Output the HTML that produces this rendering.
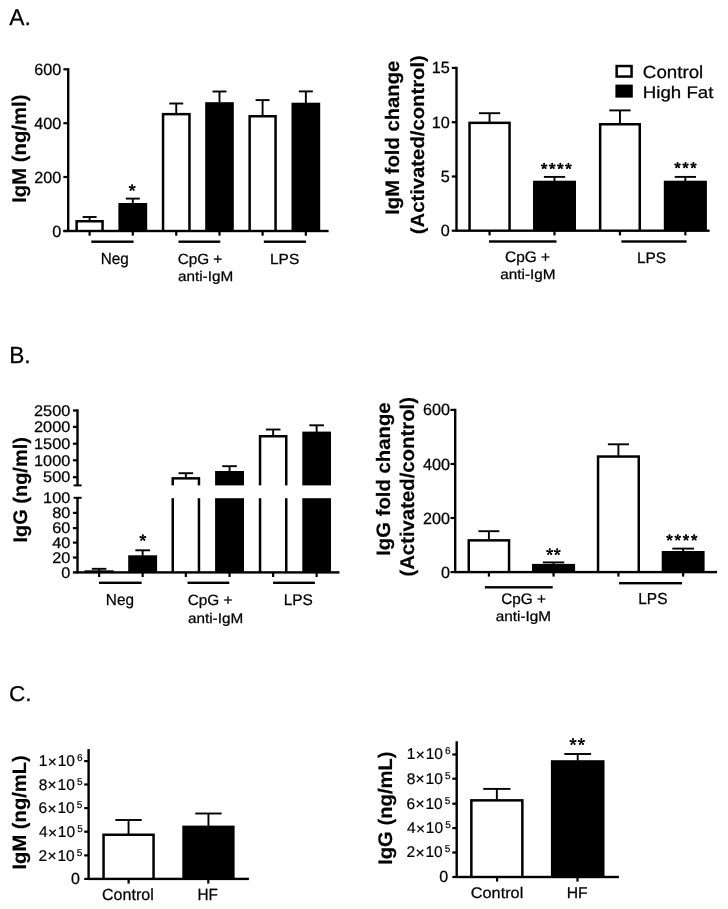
<!DOCTYPE html>
<html><head><meta charset="utf-8"><style>
html,body{margin:0;padding:0;background:#fff;}
svg{display:block;}
text{font-family:"Liberation Sans", sans-serif;fill:#000;text-rendering:geometricPrecision;stroke:#000;stroke-width:0.25px;}
text[font-weight=bold]{stroke-width:0.15px;}
svg{filter:grayscale(1);}
</style></head><body>
<svg width="728" height="909" viewBox="0 0 728 909">
<rect width="728" height="909" fill="#fff"/>
<text transform="translate(9.34,24.85) scale(0.9997,1)" font-size="22.76" font-weight="normal">A.</text>
<text transform="translate(9.23,362.85) scale(0.9704,1)" font-size="23.35" font-weight="normal">B.</text>
<text transform="translate(9.07,700.55) scale(1.0525,1)" font-size="21.43" font-weight="normal">C.</text>
<rect x="67.00" y="68.20" width="2.40" height="163.80" fill="#000"/>
<rect x="63.40" y="229.90" width="4.80" height="2.20" fill="#000"/>
<rect x="63.40" y="175.90" width="4.80" height="2.20" fill="#000"/>
<rect x="63.40" y="122.10" width="4.80" height="2.20" fill="#000"/>
<rect x="63.40" y="68.20" width="4.80" height="2.20" fill="#000"/>
<text transform="translate(52.32,236.57) scale(1.0000,1)" font-size="16.20">0</text>
<text transform="translate(34.29,182.57) scale(1.0000,1)" font-size="16.20">200</text>
<text transform="translate(34.29,128.77) scale(1.0000,1)" font-size="16.20">400</text>
<text transform="translate(34.29,74.87) scale(1.0000,1)" font-size="16.20">600</text>
<rect x="63.40" y="229.80" width="265.20" height="2.40" fill="#000"/>
<rect x="75.40" y="220.00" width="28.40" height="11.00" fill="#000"/>
<rect x="77.90" y="222.50" width="23.40" height="7.30" fill="#fff"/>
<rect x="88.65" y="217.00" width="1.90" height="3.50" fill="#000"/>
<rect x="82.60" y="216.05" width="14.00" height="1.90" fill="#000"/>
<rect x="88.50" y="231.00" width="2.20" height="4.70" fill="#000"/>
<rect x="118.40" y="203.00" width="28.80" height="28.00" fill="#000"/>
<rect x="131.85" y="198.60" width="1.90" height="4.90" fill="#000"/>
<rect x="125.80" y="197.65" width="14.00" height="1.90" fill="#000"/>
<rect x="131.70" y="231.00" width="2.20" height="4.70" fill="#000"/>
<rect x="161.80" y="112.90" width="28.90" height="118.10" fill="#000"/>
<rect x="164.30" y="115.40" width="23.90" height="114.40" fill="#fff"/>
<rect x="175.30" y="103.50" width="1.90" height="9.90" fill="#000"/>
<rect x="169.25" y="102.55" width="14.00" height="1.90" fill="#000"/>
<rect x="175.15" y="231.00" width="2.20" height="4.70" fill="#000"/>
<rect x="205.20" y="102.20" width="28.60" height="128.80" fill="#000"/>
<rect x="218.55" y="91.50" width="1.90" height="11.20" fill="#000"/>
<rect x="212.50" y="90.55" width="14.00" height="1.90" fill="#000"/>
<rect x="218.40" y="231.00" width="2.20" height="4.70" fill="#000"/>
<rect x="248.40" y="115.00" width="28.40" height="116.00" fill="#000"/>
<rect x="250.90" y="117.50" width="23.40" height="112.30" fill="#fff"/>
<rect x="261.65" y="100.10" width="1.90" height="15.40" fill="#000"/>
<rect x="255.60" y="99.15" width="14.00" height="1.90" fill="#000"/>
<rect x="261.50" y="231.00" width="2.20" height="4.70" fill="#000"/>
<rect x="291.50" y="102.70" width="28.70" height="128.30" fill="#000"/>
<rect x="304.90" y="91.40" width="1.90" height="11.80" fill="#000"/>
<rect x="298.85" y="90.45" width="14.00" height="1.90" fill="#000"/>
<rect x="304.75" y="231.00" width="2.20" height="4.70" fill="#000"/>
<path d="M132.15 187.75L132.15 185.17M132.15 187.75L134.60 186.95M132.15 187.75L133.67 189.83M132.15 187.75L130.63 189.83M132.15 187.75L129.70 186.95" stroke="#000" stroke-width="1.35" stroke-linecap="round" fill="none"/><circle cx="132.15" cy="185.17" r="1.0"/><circle cx="134.60" cy="186.95" r="1.0"/><circle cx="133.67" cy="189.83" r="1.0"/><circle cx="130.63" cy="189.83" r="1.0"/><circle cx="129.70" cy="186.95" r="1.0"/>
<rect x="91.30" y="240.50" width="42.30" height="2.40" fill="#000"/>
<rect x="178.50" y="240.50" width="41.80" height="2.40" fill="#000"/>
<rect x="263.80" y="240.50" width="42.20" height="2.40" fill="#000"/>
<text transform="translate(100.74,263.75) scale(0.9512,1)" font-size="16.07" font-weight="normal">Neg</text>
<text transform="translate(177.63,263.85) scale(1.0424,1)" font-size="14.70" font-weight="normal">CpG +</text>
<text transform="translate(177.95,281.25) scale(1.0917,1)" font-size="14.00" font-weight="normal">anti-IgM</text>
<text transform="translate(270.03,263.55) scale(1.0517,1)" font-size="14.70" font-weight="normal">LPS</text>
<text transform="translate(25.90,202.77) rotate(-90) scale(1.0214,1)" font-size="19.86" font-weight="bold">IgM (ng/ml)</text>
<rect x="455.30" y="66.80" width="2.40" height="164.90" fill="#000"/>
<rect x="451.80" y="229.60" width="4.70" height="2.20" fill="#000"/>
<rect x="451.80" y="175.40" width="4.70" height="2.20" fill="#000"/>
<rect x="451.80" y="121.10" width="4.70" height="2.20" fill="#000"/>
<rect x="451.80" y="66.80" width="4.70" height="2.20" fill="#000"/>
<text transform="translate(440.72,236.27) scale(1.0000,1)" font-size="16.20">0</text>
<text transform="translate(440.76,181.99) scale(1.0000,1)" font-size="16.20">5</text>
<text transform="translate(431.73,127.77) scale(1.0000,1)" font-size="16.20">10</text>
<text transform="translate(431.77,73.39) scale(1.0000,1)" font-size="16.20">15</text>
<rect x="456.50" y="229.50" width="253.10" height="2.40" fill="#000"/>
<rect x="468.30" y="121.60" width="42.50" height="109.10" fill="#000"/>
<rect x="470.80" y="124.10" width="37.50" height="105.40" fill="#fff"/>
<rect x="488.60" y="113.20" width="1.90" height="8.90" fill="#000"/>
<rect x="478.90" y="112.25" width="21.30" height="1.90" fill="#000"/>
<rect x="488.45" y="230.70" width="2.20" height="4.70" fill="#000"/>
<rect x="533.00" y="180.70" width="43.00" height="50.00" fill="#000"/>
<rect x="553.55" y="176.90" width="1.90" height="4.30" fill="#000"/>
<rect x="543.85" y="175.95" width="21.30" height="1.90" fill="#000"/>
<rect x="553.40" y="230.70" width="2.20" height="4.70" fill="#000"/>
<rect x="598.90" y="123.00" width="42.10" height="107.70" fill="#000"/>
<rect x="601.40" y="125.50" width="37.10" height="104.00" fill="#fff"/>
<rect x="619.00" y="110.40" width="1.90" height="13.10" fill="#000"/>
<rect x="609.30" y="109.45" width="21.30" height="1.90" fill="#000"/>
<rect x="618.85" y="230.70" width="2.20" height="4.70" fill="#000"/>
<rect x="663.80" y="180.70" width="43.10" height="50.00" fill="#000"/>
<rect x="684.40" y="176.90" width="1.90" height="4.30" fill="#000"/>
<rect x="674.70" y="175.95" width="21.30" height="1.90" fill="#000"/>
<rect x="684.25" y="230.70" width="2.20" height="4.70" fill="#000"/>
<path d="M544.15 166.13L544.15 163.71M544.15 166.13L546.45 165.38M544.15 166.13L545.57 168.09M544.15 166.13L542.73 168.09M544.15 166.13L541.85 165.38M552.25 166.13L552.25 163.71M552.25 166.13L554.55 165.38M552.25 166.13L553.67 168.09M552.25 166.13L550.83 168.09M552.25 166.13L549.95 165.38M560.35 166.13L560.35 163.71M560.35 166.13L562.65 165.38M560.35 166.13L561.77 168.09M560.35 166.13L558.93 168.09M560.35 166.13L558.05 165.38M568.45 166.13L568.45 163.71M568.45 166.13L570.75 165.38M568.45 166.13L569.87 168.09M568.45 166.13L567.03 168.09M568.45 166.13L566.15 165.38" stroke="#000" stroke-width="1.35" stroke-linecap="round" fill="none"/><circle cx="544.15" cy="163.71" r="1.0"/><circle cx="546.45" cy="165.38" r="1.0"/><circle cx="545.57" cy="168.09" r="1.0"/><circle cx="542.73" cy="168.09" r="1.0"/><circle cx="541.85" cy="165.38" r="1.0"/><circle cx="552.25" cy="163.71" r="1.0"/><circle cx="554.55" cy="165.38" r="1.0"/><circle cx="553.67" cy="168.09" r="1.0"/><circle cx="550.83" cy="168.09" r="1.0"/><circle cx="549.95" cy="165.38" r="1.0"/><circle cx="560.35" cy="163.71" r="1.0"/><circle cx="562.65" cy="165.38" r="1.0"/><circle cx="561.77" cy="168.09" r="1.0"/><circle cx="558.93" cy="168.09" r="1.0"/><circle cx="558.05" cy="165.38" r="1.0"/><circle cx="568.45" cy="163.71" r="1.0"/><circle cx="570.75" cy="165.38" r="1.0"/><circle cx="569.87" cy="168.09" r="1.0"/><circle cx="567.03" cy="168.09" r="1.0"/><circle cx="566.15" cy="165.38" r="1.0"/>
<path d="M677.55 165.27L677.55 162.96M677.55 165.27L679.75 164.56M677.55 165.27L678.91 167.14M677.55 165.27L676.19 167.14M677.55 165.27L675.35 164.56M685.50 165.27L685.50 162.96M685.50 165.27L687.70 164.56M685.50 165.27L686.86 167.14M685.50 165.27L684.14 167.14M685.50 165.27L683.30 164.56M693.45 165.27L693.45 162.96M693.45 165.27L695.65 164.56M693.45 165.27L694.81 167.14M693.45 165.27L692.09 167.14M693.45 165.27L691.25 164.56" stroke="#000" stroke-width="1.35" stroke-linecap="round" fill="none"/><circle cx="677.55" cy="162.96" r="1.0"/><circle cx="679.75" cy="164.56" r="1.0"/><circle cx="678.91" cy="167.14" r="1.0"/><circle cx="676.19" cy="167.14" r="1.0"/><circle cx="675.35" cy="164.56" r="1.0"/><circle cx="685.50" cy="162.96" r="1.0"/><circle cx="687.70" cy="164.56" r="1.0"/><circle cx="686.86" cy="167.14" r="1.0"/><circle cx="684.14" cy="167.14" r="1.0"/><circle cx="683.30" cy="164.56" r="1.0"/><circle cx="693.45" cy="162.96" r="1.0"/><circle cx="695.65" cy="164.56" r="1.0"/><circle cx="694.81" cy="167.14" r="1.0"/><circle cx="692.09" cy="167.14" r="1.0"/><circle cx="691.25" cy="164.56" r="1.0"/>
<rect x="489.00" y="240.30" width="67.50" height="2.40" fill="#000"/>
<rect x="621.40" y="240.30" width="65.20" height="2.40" fill="#000"/>
<text transform="translate(505.03,261.65) scale(1.0175,1)" font-size="15.13" font-weight="normal">CpG +</text>
<text transform="translate(500.25,278.75) scale(1.0937,1)" font-size="14.00" font-weight="normal">anti-IgM</text>
<text transform="translate(636.92,262.85) scale(1.0122,1)" font-size="15.27" font-weight="normal">LPS</text>
<text transform="translate(398.90,214.77) rotate(-90) scale(1.0340,1)" font-size="19.59" font-weight="bold">IgM fold change</text>
<text transform="translate(423.60,234.21) rotate(-90) scale(1.0658,1)" font-size="19.03" font-weight="bold">(Activated/control)</text>
<rect x="615.40" y="64.80" width="17.40" height="13.00" fill="#000"/>
<rect x="617.90" y="67.30" width="12.40" height="8.00" fill="#fff"/>
<rect x="615.40" y="84.60" width="17.40" height="13.00" fill="#000"/>
<text transform="translate(642.86,78.15) scale(1.0650,1)" font-size="17.59" font-weight="normal">Control</text>
<text transform="translate(642.76,97.65) scale(1.1251,1)" font-size="16.62" font-weight="normal">High Fat</text>
<rect x="76.30" y="409.40" width="2.40" height="76.00" fill="#000"/>
<rect x="76.30" y="497.80" width="2.40" height="75.60" fill="#000"/>
<rect x="72.90" y="409.40" width="4.60" height="2.20" fill="#000"/>
<rect x="72.90" y="425.80" width="4.60" height="2.20" fill="#000"/>
<rect x="72.90" y="442.60" width="4.60" height="2.20" fill="#000"/>
<rect x="72.90" y="459.20" width="4.60" height="2.20" fill="#000"/>
<rect x="72.90" y="476.10" width="4.60" height="2.20" fill="#000"/>
<rect x="72.90" y="511.80" width="4.60" height="2.20" fill="#000"/>
<rect x="72.90" y="527.00" width="4.60" height="2.20" fill="#000"/>
<rect x="72.90" y="541.50" width="4.60" height="2.20" fill="#000"/>
<rect x="72.90" y="556.40" width="4.60" height="2.20" fill="#000"/>
<rect x="72.90" y="571.20" width="4.60" height="2.40" fill="#000"/>
<rect x="73.60" y="484.40" width="8.00" height="2.00" fill="#000"/>
<rect x="73.60" y="496.80" width="8.00" height="2.00" fill="#000"/>
<text transform="translate(34.03,415.79) scale(1.0600,1)" font-size="15.40">2500</text>
<text transform="translate(34.03,432.19) scale(1.0600,1)" font-size="15.40">2000</text>
<text transform="translate(34.03,448.99) scale(1.0600,1)" font-size="15.40">1500</text>
<text transform="translate(34.03,465.59) scale(1.0600,1)" font-size="15.40">1000</text>
<text transform="translate(43.09,482.49) scale(1.0600,1)" font-size="15.40">500</text>
<text transform="translate(43.09,503.09) scale(1.0600,1)" font-size="15.40">100</text>
<text transform="translate(52.19,518.19) scale(1.0600,1)" font-size="15.40">80</text>
<text transform="translate(52.19,533.39) scale(1.0600,1)" font-size="15.40">60</text>
<text transform="translate(52.19,547.89) scale(1.0600,1)" font-size="15.40">40</text>
<text transform="translate(52.19,562.79) scale(1.0600,1)" font-size="15.40">20</text>
<text transform="translate(61.25,577.69) scale(1.0600,1)" font-size="15.40">0</text>
<rect x="77.50" y="571.20" width="261.90" height="2.40" fill="#000"/>
<rect x="84.60" y="570.30" width="29.00" height="2.10" fill="#000"/>
<rect x="87.10" y="572.80" width="24.00" height="-1.60" fill="#fff"/>
<rect x="98.15" y="568.80" width="1.90" height="2.00" fill="#000"/>
<rect x="91.80" y="567.85" width="14.60" height="1.90" fill="#000"/>
<rect x="98.00" y="572.40" width="2.20" height="4.60" fill="#000"/>
<rect x="128.20" y="555.30" width="28.90" height="17.10" fill="#000"/>
<rect x="141.70" y="550.30" width="1.90" height="5.50" fill="#000"/>
<rect x="135.35" y="549.35" width="14.60" height="1.90" fill="#000"/>
<rect x="141.55" y="572.40" width="2.20" height="4.60" fill="#000"/>
<rect x="171.50" y="477.10" width="28.70" height="95.30" fill="#000"/>
<rect x="174.00" y="479.60" width="23.70" height="91.60" fill="#fff"/>
<rect x="184.90" y="473.20" width="1.90" height="4.40" fill="#000"/>
<rect x="178.55" y="472.25" width="14.60" height="1.90" fill="#000"/>
<rect x="184.75" y="572.40" width="2.20" height="4.60" fill="#000"/>
<rect x="215.10" y="471.00" width="28.90" height="101.40" fill="#000"/>
<rect x="228.60" y="466.20" width="1.90" height="5.30" fill="#000"/>
<rect x="222.25" y="465.25" width="14.60" height="1.90" fill="#000"/>
<rect x="228.45" y="572.40" width="2.20" height="4.60" fill="#000"/>
<rect x="258.80" y="435.00" width="28.70" height="137.40" fill="#000"/>
<rect x="261.30" y="437.50" width="23.70" height="133.70" fill="#fff"/>
<rect x="272.20" y="429.50" width="1.90" height="6.00" fill="#000"/>
<rect x="265.85" y="428.55" width="14.60" height="1.90" fill="#000"/>
<rect x="272.05" y="572.40" width="2.20" height="4.60" fill="#000"/>
<rect x="302.30" y="431.60" width="28.70" height="140.80" fill="#000"/>
<rect x="315.70" y="425.30" width="1.90" height="6.80" fill="#000"/>
<rect x="309.35" y="424.35" width="14.60" height="1.90" fill="#000"/>
<rect x="315.55" y="572.40" width="2.20" height="4.60" fill="#000"/>
<rect x="168.00" y="485.40" width="170.00" height="12.80" fill="#fff"/>
<path d="M142.80 537.75L142.80 535.17M142.80 537.75L145.25 536.95M142.80 537.75L144.32 539.83M142.80 537.75L141.28 539.83M142.80 537.75L140.35 536.95" stroke="#000" stroke-width="1.35" stroke-linecap="round" fill="none"/><circle cx="142.80" cy="535.17" r="1.0"/><circle cx="145.25" cy="536.95" r="1.0"/><circle cx="144.32" cy="539.83" r="1.0"/><circle cx="141.28" cy="539.83" r="1.0"/><circle cx="140.35" cy="536.95" r="1.0"/>
<rect x="99.00" y="581.60" width="42.70" height="2.40" fill="#000"/>
<rect x="187.50" y="581.60" width="41.80" height="2.40" fill="#000"/>
<rect x="273.10" y="581.60" width="41.80" height="2.40" fill="#000"/>
<text transform="translate(105.83,605.25) scale(0.9636,1)" font-size="15.93" font-weight="normal">Neg</text>
<text transform="translate(187.63,605.35) scale(1.0348,1)" font-size="14.84" font-weight="normal">CpG +</text>
<text transform="translate(187.95,622.75) scale(1.0917,1)" font-size="14.00" font-weight="normal">anti-IgM</text>
<text transform="translate(283.73,605.15) scale(1.0027,1)" font-size="15.41" font-weight="normal">LPS</text>
<text transform="translate(26.50,542.55) rotate(-90) scale(1.0140,1)" font-size="19.72" font-weight="bold">IgG (ng/ml)</text>
<rect x="454.00" y="408.80" width="2.40" height="164.30" fill="#000"/>
<rect x="450.50" y="571.00" width="4.70" height="2.20" fill="#000"/>
<rect x="450.50" y="516.90" width="4.70" height="2.20" fill="#000"/>
<rect x="450.50" y="462.90" width="4.70" height="2.20" fill="#000"/>
<rect x="450.50" y="408.80" width="4.70" height="2.20" fill="#000"/>
<text transform="translate(441.02,577.67) scale(1.0000,1)" font-size="16.20">0</text>
<text transform="translate(422.99,523.57) scale(1.0000,1)" font-size="16.20">200</text>
<text transform="translate(422.99,469.57) scale(1.0000,1)" font-size="16.20">400</text>
<text transform="translate(422.99,415.47) scale(1.0000,1)" font-size="16.20">600</text>
<rect x="455.20" y="570.90" width="261.90" height="2.40" fill="#000"/>
<rect x="467.50" y="539.10" width="42.80" height="33.00" fill="#000"/>
<rect x="470.00" y="541.60" width="37.80" height="29.30" fill="#fff"/>
<rect x="487.95" y="531.20" width="1.90" height="8.40" fill="#000"/>
<rect x="478.40" y="530.25" width="21.00" height="1.90" fill="#000"/>
<rect x="487.80" y="572.10" width="2.20" height="4.50" fill="#000"/>
<rect x="532.00" y="563.90" width="43.10" height="8.20" fill="#000"/>
<rect x="552.60" y="562.40" width="1.90" height="2.00" fill="#000"/>
<rect x="542.85" y="561.45" width="21.40" height="1.90" fill="#000"/>
<rect x="552.45" y="572.10" width="2.20" height="4.50" fill="#000"/>
<rect x="596.80" y="455.30" width="43.20" height="116.80" fill="#000"/>
<rect x="599.30" y="457.80" width="38.20" height="113.10" fill="#fff"/>
<rect x="617.45" y="444.30" width="1.90" height="11.50" fill="#000"/>
<rect x="607.90" y="443.35" width="21.00" height="1.90" fill="#000"/>
<rect x="617.30" y="572.10" width="2.20" height="4.50" fill="#000"/>
<rect x="661.70" y="551.00" width="42.90" height="21.10" fill="#000"/>
<rect x="682.20" y="548.60" width="1.90" height="2.90" fill="#000"/>
<rect x="672.30" y="547.65" width="21.70" height="1.90" fill="#000"/>
<rect x="682.05" y="572.10" width="2.20" height="4.50" fill="#000"/>
<path d="M549.70 551.85L549.70 549.27M549.70 551.85L552.16 551.05M549.70 551.85L551.22 553.93M549.70 551.85L548.19 553.93M549.70 551.85L547.25 551.05M557.20 551.85L557.20 549.27M557.20 551.85L559.65 551.05M557.20 551.85L558.71 553.93M557.20 551.85L555.68 553.93M557.20 551.85L554.74 551.05" stroke="#000" stroke-width="1.35" stroke-linecap="round" fill="none"/><circle cx="549.70" cy="549.27" r="1.0"/><circle cx="552.16" cy="551.05" r="1.0"/><circle cx="551.22" cy="553.93" r="1.0"/><circle cx="548.19" cy="553.93" r="1.0"/><circle cx="547.25" cy="551.05" r="1.0"/><circle cx="557.20" cy="549.27" r="1.0"/><circle cx="559.65" cy="551.05" r="1.0"/><circle cx="558.71" cy="553.93" r="1.0"/><circle cx="555.68" cy="553.93" r="1.0"/><circle cx="554.74" cy="551.05" r="1.0"/>
<path d="M669.50 537.53L669.50 535.16M669.50 537.53L671.75 536.79M669.50 537.53L670.89 539.44M669.50 537.53L668.11 539.44M669.50 537.53L667.25 536.79M677.73 537.53L677.73 535.16M677.73 537.53L679.98 536.79M677.73 537.53L679.12 539.44M677.73 537.53L676.34 539.44M677.73 537.53L675.48 536.79M685.97 537.53L685.97 535.16M685.97 537.53L688.22 536.79M685.97 537.53L687.36 539.44M685.97 537.53L684.58 539.44M685.97 537.53L683.72 536.79M694.20 537.53L694.20 535.16M694.20 537.53L696.45 536.79M694.20 537.53L695.59 539.44M694.20 537.53L692.81 539.44M694.20 537.53L691.95 536.79" stroke="#000" stroke-width="1.35" stroke-linecap="round" fill="none"/><circle cx="669.50" cy="535.16" r="1.0"/><circle cx="671.75" cy="536.79" r="1.0"/><circle cx="670.89" cy="539.44" r="1.0"/><circle cx="668.11" cy="539.44" r="1.0"/><circle cx="667.25" cy="536.79" r="1.0"/><circle cx="677.73" cy="535.16" r="1.0"/><circle cx="679.98" cy="536.79" r="1.0"/><circle cx="679.12" cy="539.44" r="1.0"/><circle cx="676.34" cy="539.44" r="1.0"/><circle cx="675.48" cy="536.79" r="1.0"/><circle cx="685.97" cy="535.16" r="1.0"/><circle cx="688.22" cy="536.79" r="1.0"/><circle cx="687.36" cy="539.44" r="1.0"/><circle cx="684.58" cy="539.44" r="1.0"/><circle cx="683.72" cy="536.79" r="1.0"/><circle cx="694.20" cy="535.16" r="1.0"/><circle cx="696.45" cy="536.79" r="1.0"/><circle cx="695.59" cy="539.44" r="1.0"/><circle cx="692.81" cy="539.44" r="1.0"/><circle cx="691.95" cy="536.79" r="1.0"/>
<rect x="484.90" y="586.10" width="67.80" height="2.40" fill="#000"/>
<rect x="619.00" y="582.00" width="63.00" height="2.40" fill="#000"/>
<text transform="translate(501.23,603.55) scale(1.0128,1)" font-size="15.13" font-weight="normal">CpG +</text>
<text transform="translate(495.75,620.85) scale(1.0851,1)" font-size="14.14" font-weight="normal">anti-IgM</text>
<text transform="translate(638.23,603.55) scale(0.9668,1)" font-size="15.99" font-weight="normal">LPS</text>
<text transform="translate(389.50,555.77) rotate(-90) scale(1.0442,1)" font-size="19.45" font-weight="bold">IgG fold change</text>
<text transform="translate(414.00,576.62) rotate(-90) scale(1.0237,1)" font-size="19.86" font-weight="bold">(Activated/control)</text>
<rect x="87.40" y="749.10" width="2.40" height="130.80" fill="#000"/>
<rect x="84.20" y="877.80" width="4.40" height="2.20" fill="#000"/>
<rect x="84.20" y="854.30" width="4.40" height="2.20" fill="#000"/>
<rect x="84.20" y="830.60" width="4.40" height="2.20" fill="#000"/>
<rect x="84.20" y="807.00" width="4.40" height="2.20" fill="#000"/>
<rect x="84.20" y="783.40" width="4.40" height="2.20" fill="#000"/>
<rect x="84.20" y="760.00" width="4.40" height="2.20" fill="#000"/>
<text transform="translate(71.12,884.20) scale(1.0000,1)" font-size="16.00">0</text>
<text x="38.52" y="860.53" font-size="15.5" style="stroke-width:0.2px">2<tspan dx="0.3" dy="0.8">×</tspan><tspan dx="0.9" dy="-0.8">10</tspan><tspan font-size="10" dx="2.2" dy="-5.0">5</tspan></text>
<text x="38.95" y="836.83" font-size="15.5" style="stroke-width:0.2px">4<tspan dx="0.3" dy="0.8">×</tspan><tspan dx="0.9" dy="-0.8">10</tspan><tspan font-size="10" dx="2.2" dy="-5.0">5</tspan></text>
<text x="38.52" y="813.23" font-size="15.5" style="stroke-width:0.2px">6<tspan dx="0.3" dy="0.8">×</tspan><tspan dx="0.9" dy="-0.8">10</tspan><tspan font-size="10" dx="2.2" dy="-5.0">5</tspan></text>
<text x="38.64" y="789.63" font-size="15.5" style="stroke-width:0.2px">8<tspan dx="0.3" dy="0.8">×</tspan><tspan dx="0.9" dy="-0.8">10</tspan><tspan font-size="10" dx="2.2" dy="-5.0">5</tspan></text>
<text x="38.74" y="766.23" font-size="15.5" style="stroke-width:0.2px">1<tspan dx="0.3" dy="0.8">×</tspan><tspan dx="0.9" dy="-0.8">10</tspan><tspan font-size="10" dx="2.2" dy="-5.0">6</tspan></text>
<rect x="88.60" y="877.70" width="160.30" height="2.40" fill="#000"/>
<rect x="102.30" y="833.50" width="52.50" height="45.40" fill="#000"/>
<rect x="104.80" y="836.00" width="47.50" height="41.70" fill="#fff"/>
<rect x="127.60" y="820.00" width="1.90" height="14.00" fill="#000"/>
<rect x="115.40" y="819.05" width="26.30" height="1.90" fill="#000"/>
<rect x="182.30" y="825.60" width="52.30" height="53.30" fill="#000"/>
<rect x="207.50" y="813.50" width="1.90" height="12.60" fill="#000"/>
<rect x="195.30" y="812.55" width="26.30" height="1.90" fill="#000"/>
<rect x="127.50" y="878.90" width="2.20" height="4.70" fill="#000"/>
<rect x="207.20" y="878.90" width="2.20" height="4.70" fill="#000"/>
<text transform="translate(102.00,899.85) scale(0.9908,1)" font-size="16.21" font-weight="normal">Control</text>
<text transform="translate(197.43,899.85) scale(0.9478,1)" font-size="16.22" font-weight="normal">HF</text>
<text transform="translate(26.40,869.56) rotate(-90) scale(1.0390,1)" font-size="19.45" font-weight="bold">IgM (ng/mL)</text>
<rect x="455.50" y="741.30" width="2.40" height="136.70" fill="#000"/>
<rect x="452.30" y="875.90" width="4.40" height="2.20" fill="#000"/>
<rect x="452.30" y="851.40" width="4.40" height="2.20" fill="#000"/>
<rect x="452.30" y="827.00" width="4.40" height="2.20" fill="#000"/>
<rect x="452.30" y="802.60" width="4.40" height="2.20" fill="#000"/>
<rect x="452.30" y="777.60" width="4.40" height="2.20" fill="#000"/>
<rect x="452.30" y="753.40" width="4.40" height="2.20" fill="#000"/>
<text transform="translate(439.22,882.30) scale(1.0000,1)" font-size="16.00">0</text>
<text x="406.53" y="857.43" font-size="15.5" style="stroke-width:0.2px">2<tspan dx="0.3" dy="0.8">×</tspan><tspan dx="0.9" dy="-0.8">10</tspan><tspan font-size="10" dx="2.2" dy="-5.0">5</tspan></text>
<text x="406.95" y="833.03" font-size="15.5" style="stroke-width:0.2px">4<tspan dx="0.3" dy="0.8">×</tspan><tspan dx="0.9" dy="-0.8">10</tspan><tspan font-size="10" dx="2.2" dy="-5.0">5</tspan></text>
<text x="406.53" y="808.63" font-size="15.5" style="stroke-width:0.2px">6<tspan dx="0.3" dy="0.8">×</tspan><tspan dx="0.9" dy="-0.8">10</tspan><tspan font-size="10" dx="2.2" dy="-5.0">5</tspan></text>
<text x="406.64" y="783.63" font-size="15.5" style="stroke-width:0.2px">8<tspan dx="0.3" dy="0.8">×</tspan><tspan dx="0.9" dy="-0.8">10</tspan><tspan font-size="10" dx="2.2" dy="-5.0">5</tspan></text>
<text x="406.74" y="759.43" font-size="15.5" style="stroke-width:0.2px">1<tspan dx="0.3" dy="0.8">×</tspan><tspan dx="0.9" dy="-0.8">10</tspan><tspan font-size="10" dx="2.2" dy="-5.0">6</tspan></text>
<rect x="456.70" y="875.80" width="162.20" height="2.40" fill="#000"/>
<rect x="470.10" y="799.10" width="53.50" height="77.90" fill="#000"/>
<rect x="472.60" y="801.60" width="48.50" height="74.20" fill="#fff"/>
<rect x="495.90" y="788.90" width="1.90" height="10.70" fill="#000"/>
<rect x="483.25" y="787.95" width="27.20" height="1.90" fill="#000"/>
<rect x="550.90" y="760.20" width="53.60" height="116.80" fill="#000"/>
<rect x="576.75" y="754.00" width="1.90" height="6.70" fill="#000"/>
<rect x="564.30" y="753.05" width="26.80" height="1.90" fill="#000"/>
<rect x="496.00" y="877.00" width="2.20" height="4.60" fill="#000"/>
<rect x="576.40" y="877.00" width="2.20" height="4.60" fill="#000"/>
<path d="M573.00 741.76L573.00 739.07M573.00 741.76L575.56 740.93M573.00 741.76L574.58 743.93M573.00 741.76L571.43 743.93M573.00 741.76L570.45 740.93M581.40 741.76L581.40 739.07M581.40 741.76L583.95 740.93M581.40 741.76L582.97 743.93M581.40 741.76L579.82 743.93M581.40 741.76L578.84 740.93" stroke="#000" stroke-width="1.35" stroke-linecap="round" fill="none"/><circle cx="573.00" cy="739.07" r="1.0"/><circle cx="575.56" cy="740.93" r="1.0"/><circle cx="574.58" cy="743.93" r="1.0"/><circle cx="571.43" cy="743.93" r="1.0"/><circle cx="570.45" cy="740.93" r="1.0"/><circle cx="581.40" cy="739.07" r="1.0"/><circle cx="583.95" cy="740.93" r="1.0"/><circle cx="582.97" cy="743.93" r="1.0"/><circle cx="579.82" cy="743.93" r="1.0"/><circle cx="578.84" cy="740.93" r="1.0"/>
<text transform="translate(470.79,897.65) scale(1.0588,1)" font-size="15.38" font-weight="normal">Control</text>
<text transform="translate(566.70,897.65) scale(1.0042,1)" font-size="15.64" font-weight="normal">HF</text>
<text transform="translate(392.00,864.87) rotate(-90) scale(1.0264,1)" font-size="19.72" font-weight="bold">IgG (ng/mL)</text>
</svg>
</body></html>
